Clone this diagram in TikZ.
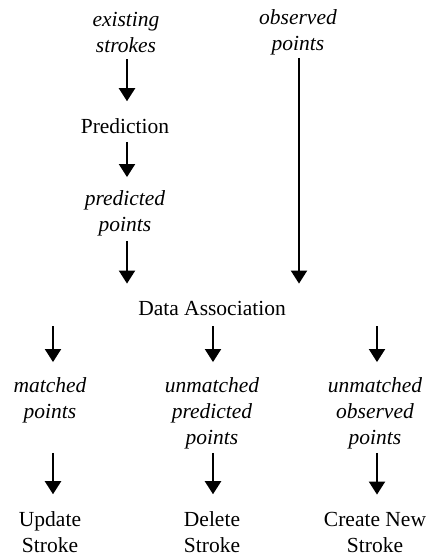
\documentclass[tikz,border=0pt]{standalone}
\usepackage{fontspec}
\setmainfont{Liberation Serif}
\usetikzlibrary{arrows.meta}
\begin{document}
\begin{tikzpicture}[x=1pt,y=-1pt,
  lbl/.style={inner sep=0pt,align=center,font=\fontsize{21.5}{26}\selectfont},
  ilbl/.style={lbl,font=\fontsize{21.5}{26}\selectfont\itshape},
  arr/.style={line width=2pt,-{Triangle[width=16pt,length=13pt]}}]
\useasboundingbox (0,0) rectangle (428,557);
\node[ilbl] (es) at (126,32) {existing\\strokes};
\node[ilbl] (os) at (298,32) {observed\\points};
\node[lbl] (pred) at (125,126) {Prediction};
\node[ilbl] (pp) at (125,213) {predicted\\points};
\node[lbl] (da) at (212,308) {Data Association};
\node[ilbl] (mp) at (50,400) {matched\\points};
\node[ilbl] (up) at (212,413) {unmatched\\predicted\\points};
\node[ilbl] (uo) at (375,413) {unmatched\\observed\\points};
\node[lbl] (us) at (50,532) {Update\\Stroke};
\node[lbl] (ds) at (212,532) {Delete\\Stroke};
\node[lbl] (cs) at (375,532) {Create New\\Stroke};
\draw[arr] ([xshift=1pt,yshift=-7pt]es.south) -- ([xshift=2pt,yshift=17pt]pred.north);
\draw[arr] ([xshift=2pt,yshift=-8pt]pred.south) -- ([xshift=2pt,yshift=13pt]pp.north);
\draw[arr] ([xshift=2pt,yshift=-5pt]pp.south) -- ([xshift=-85pt,yshift=17pt]da.north);
\draw[arr] ([xshift=1pt,yshift=-3pt]os.south) -- ([xshift=87pt,yshift=17pt]da.north);
\draw[arr] ([yshift=-11pt]da.south -| mp.north) ++(3pt,0) -- ([xshift=3pt,yshift=15pt]mp.north);
\draw[arr] ([yshift=-11pt]da.south -| up.north) ++(1pt,0) -- ([xshift=1pt,yshift=15pt]up.north);
\draw[arr] ([yshift=-11pt]da.south -| uo.north) ++(2pt,0) -- ([xshift=2pt,yshift=15pt]uo.north);
\draw[arr] ([xshift=3pt,yshift=-30pt]mp.south) -- ([xshift=3pt,yshift=17pt]us.north);
\draw[arr] ([xshift=1pt,yshift=-4pt]up.south) -- ([xshift=1pt,yshift=17pt]ds.north);
\draw[arr] ([xshift=2pt,yshift=-4pt]uo.south) -- ([xshift=2pt,yshift=17pt]cs.north);
\end{tikzpicture}
\end{document}
